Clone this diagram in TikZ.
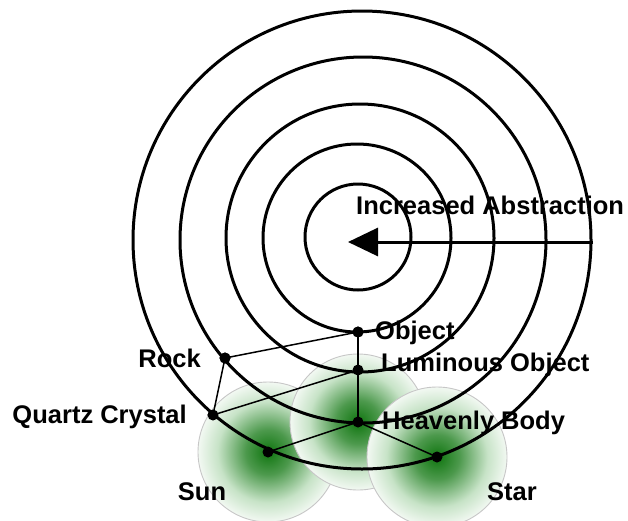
\documentclass[tikz,border=0pt]{standalone}
\usepackage{fontspec}
\setmainfont{Liberation Sans}
\usetikzlibrary{arrows.meta}
\definecolor{dgreen}{rgb}{0.06,0.46,0.06}
\definecolor{mgreen}{rgb}{0.30,0.60,0.30}
\definecolor{lgreen}{rgb}{0.78,0.89,0.78}
\pgfdeclareradialshading{greenfade}{\pgfpoint{0bp}{0bp}}{color(0bp)=(dgreen); color(8bp)=(mgreen); color(18bp)=(lgreen); color(27bp)=(white); color(50bp)=(white)}
\tikzset{
  ring/.style={draw=black, line width=3pt},
  link/.style={draw=black, line width=1.5pt},
  dot/.style={circle, fill=black, inner sep=0pt, minimum size=11pt},
  halo/.style={shading=greenfade, draw=black!22, line width=0.9pt},
  lab/.style={font=\fontsize{25.5}{29}\selectfont\bfseries, inner sep=0pt, text=black},
}
\begin{document}
\begin{tikzpicture}[x=1pt,y=-1pt]
\useasboundingbox (0,0) rectangle (628,520);
\fill[white] (0,0) rectangle (628,520);
% nodes
\node[dot] (obj) at (358,332) {};
\node[dot] (lum) at (358,370) {};
\node[dot] (hb) at (358,422) {};
\node[dot] (rock) at (225,358) {};
\node[dot] (qc) at (213,415) {};
\node[dot] (sun) at (268,452) {};
\node[dot] (star) at (437,457) {};
% halos
\path[halo] (sun.center) circle[radius=70pt];
\path[halo] (hb.center) circle[radius=68pt];
\path[halo] (star.center) circle[radius=70pt];
% rings
\draw[ring] (362,240) circle[radius=229pt];
\draw[ring] (363,240) circle[radius=183pt];
\draw[ring] (360,238) circle[radius=134pt];
\draw[ring] (357,238) circle[radius=94pt];
\draw[ring] (358,237) circle[radius=53pt];
% arrow
\coordinate (arrS) at (593,242);
\coordinate (arrT) at (348,242);
\draw[line width=3pt, -{Triangle[length=30pt,width=28pt]}] (arrS) -- (arrT);
% links
\draw[link] (obj.center) -- (lum.center);
\draw[link] (lum.center) -- (hb.center);
\draw[link] (rock.center) -- (obj.center);
\draw[link] (rock.center) -- (qc.center);
\draw[link] (qc.center) -- (lum.center);
\draw[link] (sun.center) -- (hb.center);
\draw[link] (hb.center) -- (star.center);
% dots on top
\foreach \n in {obj,lum,hb,rock,qc,sun,star} \fill (\n.center) circle[radius=5.5pt];
% labels
\node[lab, anchor=west] (tIA) at (356,205) {Increased Abstraction};
\node[lab, anchor=west] (tObj) at (375,333) {Object};
\node[lab, anchor=west] (tLum) at (381,365) {Luminous Object};
\node[lab, anchor=west] (tHB) at (382,423) {Heavenly Body};
\node[lab, anchor=east] (tRock) at (201,358) {Rock};
\node[lab, anchor=east] (tQC) at (187,417) {Quartz Crystal};
\node[lab] (tSun) at (202,492) {Sun};
\node[lab] (tStar) at (512,492) {Star};
\end{tikzpicture}
\end{document}
